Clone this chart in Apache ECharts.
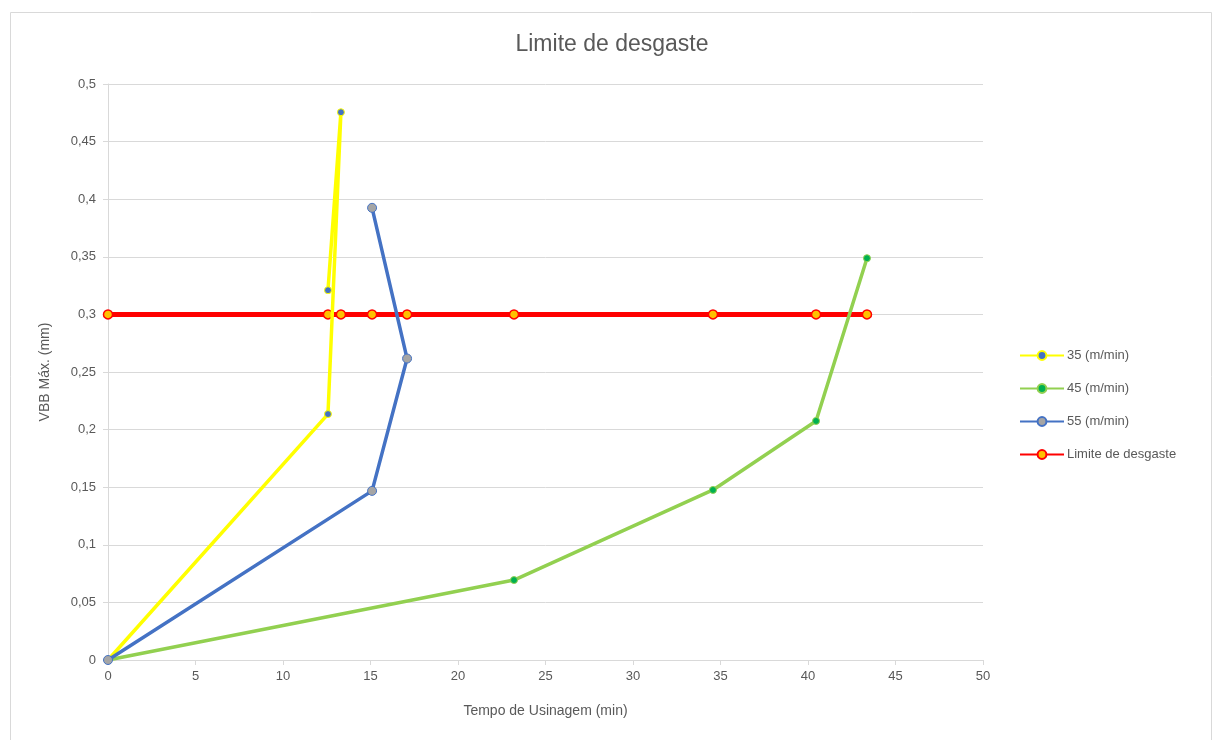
<!DOCTYPE html>
<html lang="pt">

<head>
    <meta charset="UTF-8">
    <title>Limite de desgaste</title>
    <script src="https://cdn.jsdelivr.net/npm/echarts@6.0.0/dist/echarts.min.js"></script>
    <style>
        * {
            margin: 0;
            padding: 0;
        }
        body {
            background-color: #fff;
        }
        #box {
            width: 1213px;
            height: 740px;
        }
    </style>
</head>

<body>
    <div id="box"></div>
    <script>
        // dados
        const seriesNames = ['35 (m/min)', '45 (m/min)', '55 (m/min)', 'Limite de desgaste'];
        const t35 = [0, 12.57, 13.31, 12.57];
        const vb35 = [0, 0.2135, 0.4755, 0.321];
        const t45 = [0, 23.2, 34.57, 40.46, 43.37];
        const vb45 = [0, 0.0694, 0.1476, 0.2075, 0.3488];
        const t55 = [0, 15.09, 17.09, 15.09];
        const vb55 = [0, 0.1468, 0.2617, 0.3925];
        const tLimite = [0, 12.57, 13.31, 15.09, 17.09, 23.2, 34.57, 40.46, 43.37];
        const limite = 0.3;

        function pares(xs, ys) {
            return xs.map((x, i) => [x, ys[i]]);
        }

        const gray = '#595959';
        const lineGray = '#D9D9D9';
        const font = 'Liberation Sans, Arial, sans-serif';

        const option = {
            animation: false,
            title: {
                text: 'Limite de desgaste',
                left: 607,
                textAlign: 'center',
                top: 28,
                textStyle: { color: gray, fontSize: 23, fontWeight: 'normal', fontFamily: font }
            },
            graphic: [{
                type: 'rect',
                shape: { x: 10.5, y: 12.5, width: 1201, height: 740 },
                style: { fill: null, stroke: lineGray, lineWidth: 1 },
                silent: true
            }],
            legend: {
                orient: 'vertical',
                left: 1014,
                top: 344,
                itemGap: 20,
                itemWidth: 44,
                itemHeight: 11,
                data: seriesNames,
                textStyle: { color: gray, fontSize: 13, fontFamily: font, padding: [0, 0, 0, -2] }
            },
            grid: {
                left: 108,
                right: 230,
                top: 84,
                bottom: 80
            },
            xAxis: {
                type: 'value',
                min: 0,
                max: 50,
                interval: 5,
                name: 'Tempo de Usinagem (min)',
                nameLocation: 'middle',
                nameGap: 44,
                nameTextStyle: { color: gray, fontSize: 14, fontFamily: font },
                axisLine: { show: true, lineStyle: { color: lineGray } },
                axisTick: { show: true, length: 5, lineStyle: { color: lineGray } },
                axisLabel: { color: gray, fontSize: 13, fontFamily: font, margin: 10 },
                splitLine: { show: false }
            },
            yAxis: {
                type: 'value',
                min: 0,
                max: 0.5,
                interval: 0.05,
                name: 'VBB Máx. (mm)',
                nameLocation: 'middle',
                nameGap: 56,
                nameTextStyle: { color: gray, fontSize: 14, fontFamily: font },
                axisLine: { show: true, lineStyle: { color: lineGray } },
                axisTick: { show: true, length: 5, lineStyle: { color: lineGray } },
                axisLabel: {
                    color: gray, fontSize: 13, fontFamily: font, margin: 12,
                    formatter: v => String(Math.round(v * 100) / 100).replace('.', ',')
                },
                splitLine: { lineStyle: { color: lineGray } }
            },
            series: [
                {
                    name: seriesNames[0],
                    type: 'line',
                    data: pares(t35, vb35),
                    symbol: 'circle',
                    symbolSize: 7,
                    lineStyle: { color: '#FFFF00', width: 3.5 },
                    itemStyle: { color: '#4472C4', borderColor: '#FFFF00', borderWidth: 1 },
                    z: 3
                },
                {
                    name: seriesNames[1],
                    type: 'line',
                    data: pares(t45, vb45),
                    symbol: 'circle',
                    symbolSize: 7,
                    lineStyle: { color: '#92D050', width: 3.5 },
                    itemStyle: { color: '#00B050', borderColor: '#92D050', borderWidth: 1 },
                    z: 3
                },
                {
                    name: seriesNames[2],
                    type: 'line',
                    data: pares(t55, vb55),
                    symbol: 'circle',
                    symbolSize: 9,
                    lineStyle: { color: '#4472C4', width: 3.5 },
                    itemStyle: { color: '#A5A5A5', borderColor: '#4472C4', borderWidth: 1 },
                    z: 3
                },
                {
                    name: seriesNames[3],
                    type: 'line',
                    data: tLimite.map(t => [t, limite]),
                    symbol: 'circle',
                    symbolSize: 9,
                    lineStyle: { color: '#FF0000', width: 5 },
                    itemStyle: { color: '#FFC000', borderColor: '#FF0000', borderWidth: 1.5 },
                    z: 2
                }
            ]
        };

        echarts.init(document.querySelector('#box')).setOption(option);
    </script>
</body>

</html>
